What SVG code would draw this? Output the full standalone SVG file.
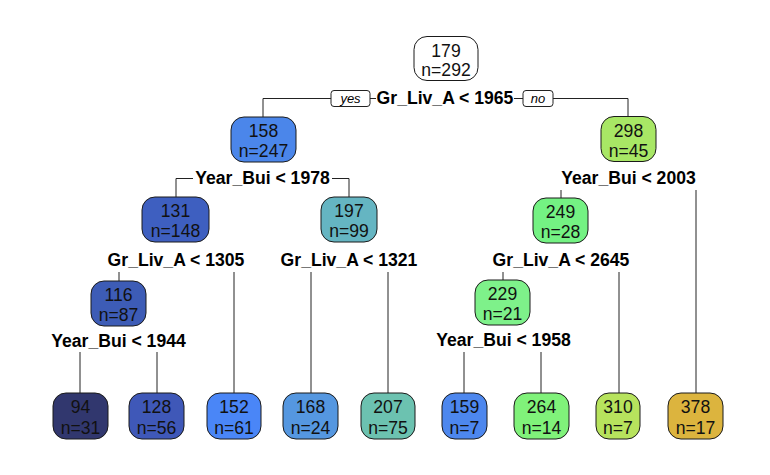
<svg xmlns="http://www.w3.org/2000/svg" width="770" height="475" viewBox="0 0 770 475">
<style>
.bx{stroke:#1a1a1a;stroke-width:1}
.nt{font-family:"Liberation Sans",Arial,sans-serif;font-size:17.6px;text-anchor:middle;fill:#111}
.lb{font-family:"Liberation Sans",Arial,sans-serif;font-size:17.6px;font-weight:bold;text-anchor:middle;fill:#000}
.yn{font-family:"Liberation Sans",Arial,sans-serif;font-size:13px;font-style:italic;text-anchor:middle;fill:#000}
.ln{stroke:#222;stroke-width:1;fill:none}
</style>
<rect width="770" height="475" fill="#fff"/>
<g id="connectors">
<path class="ln" d="M263,117V98.5H331M370,98.5H376M514,98.5H523M553,98.5H628V116"/>
<rect x="331" y="90.5" width="39" height="16" rx="3" fill="#fff" stroke="#222" stroke-width="1"/>
<text class="yn" x="350.5" y="103">yes</text>
<rect x="523" y="90.5" width="30" height="16" rx="3" fill="#fff" stroke="#222" stroke-width="1"/>
<text class="yn" x="538" y="103">no</text>
<path class="ln" d="M176,197V178.5H193M332,178.5H349V197"/>
<path class="ln" d="M561,190V198M696,190V393"/>
<path class="ln" d="M119,272V281M234,272V393M311,272V393M388,272V393M503,272V280M619,272V393"/>
<path class="ln" d="M80,352V393M157,352V393M464,352V393M541,352V393"/>
</g>
<g id="n1"><rect class="bx" x="414" y="36.5" width="64" height="44" rx="13" fill="#fff"/><text class="nt" x="446" y="57">179</text><text class="nt" x="446" y="76">n=292</text><text class="lb" x="445" y="104">Gr_Liv_A &lt; 1965</text></g>
<g id="n2"><rect class="bx" x="231" y="117" width="65" height="45" rx="13" fill="#4b86ea"/><text class="nt" x="263.5" y="137">158</text><text class="nt" x="263.5" y="157">n=247</text><text class="lb" x="262.5" y="184">Year_Bui &lt; 1978</text></g>
<g id="n3"><rect class="bx" x="601" y="116.5" width="55" height="45" rx="13" fill="#a8e765"/><text class="nt" x="628.5" y="137">298</text><text class="nt" x="628.5" y="157">n=45</text><text class="lb" x="628.5" y="184">Year_Bui &lt; 2003</text></g>
<g id="n4"><rect class="bx" x="142" y="197" width="67" height="45" rx="13" fill="#3e5fc0"/><text class="nt" x="175.5" y="217">131</text><text class="nt" x="175.5" y="237">n=148</text><text class="lb" x="176" y="265.5">Gr_Liv_A &lt; 1305</text></g>
<g id="n5"><rect class="bx" x="321" y="197" width="56" height="45" rx="13" fill="#65b5c2"/><text class="nt" x="349" y="217">197</text><text class="nt" x="349" y="237">n=99</text><text class="lb" x="349" y="265.5">Gr_Liv_A &lt; 1321</text></g>
<g id="n6"><rect class="bx" x="533" y="198" width="55" height="45" rx="13" fill="#74f283"/><text class="nt" x="560.5" y="218">249</text><text class="nt" x="560.5" y="238">n=28</text><text class="lb" x="561" y="266">Gr_Liv_A &lt; 2645</text></g>
<g id="n7"><rect class="bx" x="91" y="281" width="55" height="45" rx="13" fill="#3d5cb6"/><text class="nt" x="118.5" y="301">116</text><text class="nt" x="118.5" y="321">n=87</text><text class="lb" x="118.5" y="347">Year_Bui &lt; 1944</text></g>
<g id="n8"><rect class="bx" x="475" y="280" width="55" height="45" rx="13" fill="#7ef18a"/><text class="nt" x="502.5" y="300">229</text><text class="nt" x="502.5" y="320">n=21</text><text class="lb" x="503.5" y="346">Year_Bui &lt; 1958</text></g>
<g id="l1"><rect class="bx" x="53" y="393" width="55" height="46" rx="13" fill="#31376e"/><text class="nt" x="80.5" y="413">94</text><text class="nt" x="80.5" y="434">n=31</text></g>
<g id="l2"><rect class="bx" x="129" y="393" width="55" height="46" rx="13" fill="#3f58b8"/><text class="nt" x="156.5" y="413">128</text><text class="nt" x="156.5" y="434">n=56</text></g>
<g id="l3"><rect class="bx" x="207" y="393" width="54" height="46" rx="13" fill="#4a86f7"/><text class="nt" x="234" y="413">152</text><text class="nt" x="234" y="434">n=61</text></g>
<g id="l4"><rect class="bx" x="283" y="393" width="55" height="46" rx="13" fill="#5597e0"/><text class="nt" x="310.5" y="413">168</text><text class="nt" x="310.5" y="434">n=24</text></g>
<g id="l5"><rect class="bx" x="361" y="393" width="54" height="46" rx="13" fill="#6cc2b0"/><text class="nt" x="388" y="413">207</text><text class="nt" x="388" y="434">n=75</text></g>
<g id="l6"><rect class="bx" x="442" y="393" width="45" height="46" rx="13" fill="#4d87ee"/><text class="nt" x="464.5" y="413">159</text><text class="nt" x="464.5" y="434">n=7</text></g>
<g id="l7"><rect class="bx" x="514" y="393" width="55" height="46" rx="13" fill="#80f27a"/><text class="nt" x="541.5" y="413">264</text><text class="nt" x="541.5" y="434">n=14</text></g>
<g id="l8"><rect class="bx" x="596" y="393" width="44" height="46" rx="13" fill="#b7e35d"/><text class="nt" x="618" y="413">310</text><text class="nt" x="618" y="434">n=7</text></g>
<g id="l9"><rect class="bx" x="668" y="393" width="55" height="46" rx="13" fill="#dcb43e"/><text class="nt" x="695.5" y="413">378</text><text class="nt" x="695.5" y="434">n=17</text></g>
</svg>
